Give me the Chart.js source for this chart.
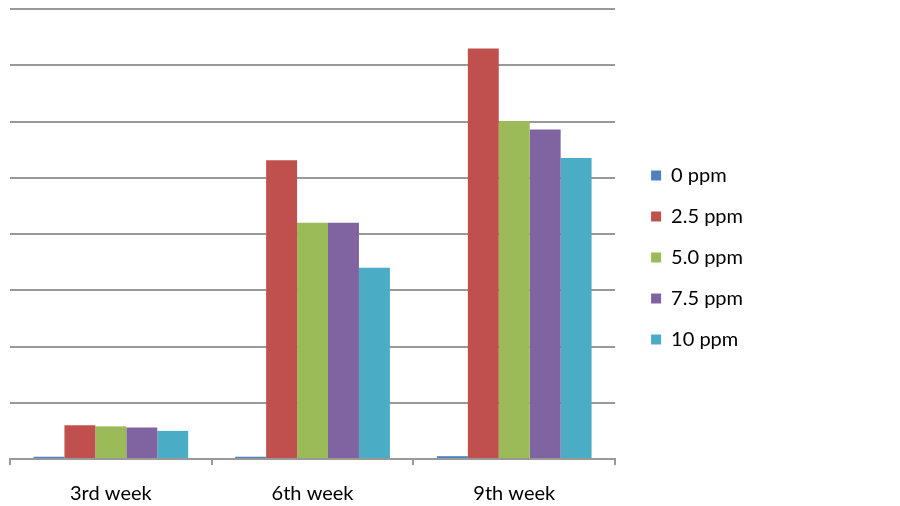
<!DOCTYPE html>
<html>
<head>
<meta charset="utf-8">
<script src="https://cdn.jsdelivr.net/npm/chart.js@4.4.1/dist/chart.umd.min.js"></script>
<style>
  html, body { margin: 0; padding: 0; background: #fff; }
</style>
</head>
<body>
<canvas id="chart" width="900" height="506"></canvas>
<script>
var weeks = ['3rd week', '6th week', '9th week']
var ppm0 = [0.04, 0.04, 0.05]
var ppm25 = [0.60, 5.31, 7.30]
var ppm50 = [0.58, 4.20, 6.01]
var ppm75 = [0.56, 4.20, 5.86]
var ppm10 = [0.50, 3.40, 5.35]

Chart.defaults.font.family = 'Lato, "Liberation Sans", sans-serif'
Chart.defaults.color = '#000'

var mychart = new Chart(document.getElementById('chart'), {
    type: 'bar',
    data: {
        labels: weeks,
        datasets: [
            { label: '0 ppm', data: ppm0, backgroundColor: '#4F81BD' },
            { label: '2.5 ppm', data: ppm25, backgroundColor: '#C0504D' },
            { label: '5.0 ppm', data: ppm50, backgroundColor: '#9BBB59' },
            { label: '7.5 ppm', data: ppm75, backgroundColor: '#8064A2' },
            { label: '10 ppm', data: ppm10, backgroundColor: '#4BACC6' }
        ]
    },
    options: {
        responsive: false,
        animation: false,
        layout: { padding: { top: 9, left: 0, right: 147, bottom: 0 } },
        datasets: { bar: { categoryPercentage: 0.767, barPercentage: 1 } },
        plugins: {
            legend: {
                position: 'right',
                labels: {
                    boxWidth: 10,
                    boxHeight: 10,
                    padding: 21,
                    font: { size: 20 }
                }
            },
            tooltip: { enabled: false }
        },
        scales: {
            x: {
                grid: { offset: true, drawOnChartArea: false, tickLength: 6, color: '#999', lineWidth: 2 },
                border: { color: '#999', width: 2 },
                ticks: { font: { size: 20 }, padding: 17 },
                // tick padding is counted twice in the fit, keep the axis tight
                afterFit: function (s) { s.height = 47 }
            },
            y: {
                min: 0,
                max: 8,
                ticks: { display: false, stepSize: 1 },
                border: { display: false },
                grid: { color: '#999', lineWidth: 2, drawTicks: false },
                afterFit: function (s) { s.width = 10 }
            },
            gap: {
                position: 'right',
                ticks: { display: false },
                border: { display: false },
                grid: { display: false },
                afterFit: function (s) { s.width = 15 }
            }
        }
    }
});
</script>
</body>
</html>
